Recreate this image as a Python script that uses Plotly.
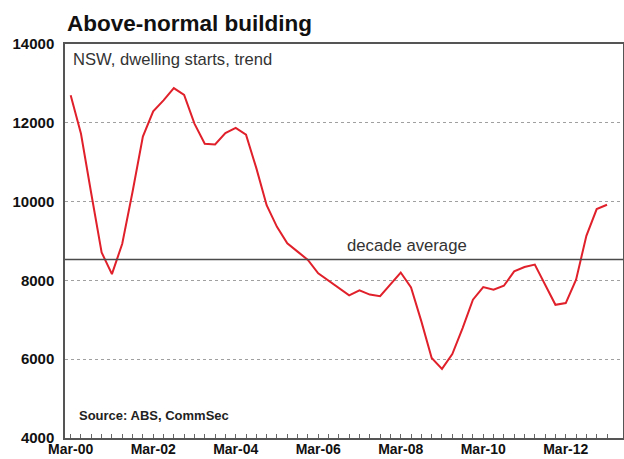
import plotly.graph_objects as go

# NSW dwelling starts, trend, quarterly from Mar-00
quarters = []
for yr in range(0, 14):
    for mon in ["Mar", "Jun", "Sep", "Dec"]:
        quarters.append(f"{mon}-{yr:02d}")
starts = [12700, 11720, 10200, 8710, 8160, 8930, 10250, 11650, 12290, 12570,
          12880, 12710, 11980, 11470, 11450, 11740, 11870, 11700, 10850, 9910,
          9360, 8940, 8730, 8520, 8180, 7990, 7810, 7620, 7750, 7640,
          7600, 7910, 8200, 7820, 6960, 6030, 5755, 6130, 6790, 7510,
          7830, 7765, 7865, 8230, 8340, 8400, 7890, 7380, 7425, 8020,
          9130, 9810, 9920]
quarters = quarters[:len(starts)]
decade_average = 8530

tick_labels = ["Mar-00", "Mar-02", "Mar-04", "Mar-06", "Mar-08", "Mar-10", "Mar-12"]
y_ticks = [4000, 6000, 8000, 10000, 12000, 14000]

FONT = "Liberation Sans, Arial, sans-serif"

fig = go.Figure()
fig.add_trace(go.Scatter(
    x=quarters, y=starts, mode="lines",
    line=dict(color="#e0202a", width=2),
    showlegend=False, hoverinfo="skip",
))

fig.add_shape(type="line", xref="paper", yref="y", x0=0, x1=1,
              y0=decade_average, y1=decade_average,
              line=dict(color="#4a4a4a", width=1.5), layer="above")

# Quarterly tick marks, labels every second March
tickvals = quarters
ticktext = [q if q in tick_labels else "" for q in quarters]

fig.update_layout(
    width=624, height=459,
    margin=dict(l=65, r=1, t=44, b=21),
    paper_bgcolor="white", plot_bgcolor="white",
    font=dict(family=FONT, color="#000"),
    xaxis=dict(
        type="category", range=[-0.55, 53.55],
        tickmode="array", tickvals=tickvals, ticktext=ticktext,
        ticks="inside", ticklen=4, tickwidth=1, tickcolor="#666",
        ticklabelstandoff=-3,
        tickfont=dict(size=14, family=FONT, color="#111", weight="bold"),
        showgrid=False, zeroline=False,
        showline=True, linecolor="#555", linewidth=1.5, mirror=True,
        automargin=False,
    ),
    yaxis=dict(
        range=[4000, 14000], tickmode="array", tickvals=y_ticks,
        ticktext=[str(v) for v in y_ticks],
        ticks="", ticklabelstandoff=6,
        tickfont=dict(size=15, family=FONT, color="#111", weight="bold"),
        showgrid=True, gridcolor="#a0a0a0", griddash="dot", gridwidth=1,
        zeroline=False,
        showline=True, linecolor="#555", linewidth=1.5, mirror=True,
        automargin=False,
    ),
    annotations=[
        dict(text="<b>Above-normal building</b>", xref="paper", yref="paper",
             x=0.0, y=1.053, xanchor="left", yanchor="middle", showarrow=False,
             font=dict(size=22.5, family=FONT, color="#111")),
        dict(text="NSW, dwelling starts, trend", xref="paper", yref="paper",
             x=0.010, y=0.960, xanchor="left", yanchor="middle", showarrow=False,
             font=dict(size=16.6, family=FONT, color="#333")),
        dict(text="<b>Source: ABS, CommSec</b>", xref="paper", yref="paper",
             x=0.022, y=0.056, xanchor="left", yanchor="middle", showarrow=False,
             font=dict(size=13, family=FONT, color="#222")),
        dict(text="decade average", xref="x", yref="paper",
             x=32.6, y=(438 - 245) / 394, xanchor="center", yanchor="middle",
             showarrow=False,
             font=dict(size=16.7, family=FONT, color="#333")),
    ],
)

fig.write_html("out.html")
